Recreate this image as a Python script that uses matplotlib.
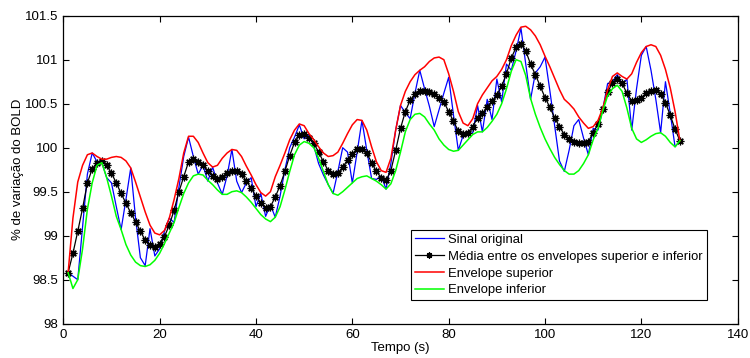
import numpy as np
import matplotlib
matplotlib.use("Agg")
import matplotlib.pyplot as plt
import matplotlib.ticker as plt_tick

plt.rcParams['font.family'] = ['Liberation Sans', 'DejaVu Sans']

# time axis, one sample per second
tempo = np.arange(1, 129)

# original BOLD signal (%)
sinal = [
    98.58, 98.54, 98.50, 99.10, 99.70, 99.94, 99.84, 99.83, 99.66, 99.60,
    99.33, 99.07, 99.41, 99.77, 99.20, 98.75, 98.66, 99.08, 98.77, 98.85,
    99.05, 99.20, 99.15, 99.55, 99.90, 100.12, 99.90, 99.70, 99.80, 99.62,
    99.78, 99.60, 99.47, 99.68, 99.98, 99.62, 99.49, 99.60, 99.66, 99.33,
    99.48, 99.22, 99.35, 99.21, 99.45, 99.75, 100.00, 100.12, 100.26, 100.10,
    100.15, 100.02, 99.82, 99.69, 99.58, 99.48, 99.73, 100.00, 99.95, 99.60,
    99.95, 100.31, 99.97, 99.65, 99.64, 99.68, 99.53, 99.82, 100.20, 100.48,
    100.40, 100.33, 100.62, 100.88, 100.67, 100.47, 100.24, 100.43, 100.62, 100.80,
    100.37, 99.97, 100.14, 100.15, 100.17, 100.48, 100.18, 100.55, 100.32, 100.78,
    100.52, 100.95, 100.88, 101.10, 101.36, 100.95, 100.55, 100.85, 100.92, 101.03,
    100.65, 100.25, 99.85, 99.73, 99.97, 100.25, 100.32, 100.11, 99.92, 100.22,
    100.20, 100.44, 100.73, 100.75, 100.83, 100.72, 100.78, 100.20, 100.67, 101.05,
    101.15, 100.88, 100.55, 100.17, 100.75, 100.39, 100.01, 100.08,
]

# upper envelope
env_sup = [
    98.58, 99.20, 99.61, 99.80, 99.92, 99.94, 99.90, 99.87, 99.87, 99.89,
    99.90, 99.89, 99.85, 99.77, 99.61, 99.44, 99.27, 99.12, 99.03, 99.01,
    99.06, 99.20, 99.41, 99.65, 99.94, 100.13, 100.13, 100.06, 99.94, 99.83,
    99.78, 99.80, 99.88, 99.94, 99.98, 99.97, 99.90, 99.79, 99.69, 99.58,
    99.49, 99.45, 99.50, 99.67, 99.80, 99.94, 100.09, 100.20, 100.27, 100.25,
    100.16, 100.09, 100.01, 99.94, 99.90, 99.91, 99.95, 100.05, 100.16, 100.26,
    100.32, 100.31, 100.20, 100.01, 99.84, 99.74, 99.72, 99.88, 100.20, 100.48,
    100.64, 100.75, 100.83, 100.88, 100.92, 100.98, 101.02, 101.03, 101.00, 100.84,
    100.64, 100.41, 100.28, 100.25, 100.33, 100.50, 100.60, 100.68, 100.76, 100.81,
    100.89, 101.00, 101.16, 101.28, 101.37, 101.38, 101.34, 101.27, 101.17, 101.04,
    100.92, 100.79, 100.66, 100.55, 100.50, 100.44, 100.35, 100.28, 100.22, 100.24,
    100.31, 100.45, 100.66, 100.81, 100.85, 100.81, 100.78, 100.84, 100.97, 101.08,
    101.15, 101.17, 101.15, 101.05, 100.89, 100.68, 100.41, 100.08,
]

# lower envelope
env_inf = [
    98.58, 98.40, 98.50, 98.85, 99.30, 99.60, 99.80, 99.83, 99.66, 99.45,
    99.22, 99.07, 98.90, 98.78, 98.70, 98.66, 98.65, 98.67, 98.72, 98.80,
    98.91, 99.03, 99.15, 99.32, 99.48, 99.60, 99.68, 99.70, 99.69, 99.63,
    99.58, 99.52, 99.47, 99.47, 99.50, 99.51, 99.49, 99.44, 99.38, 99.31,
    99.24, 99.19, 99.16, 99.21, 99.33, 99.52, 99.73, 99.92, 100.03, 100.07,
    100.05, 100.00, 99.88, 99.73, 99.58, 99.48, 99.46, 99.50, 99.55, 99.60,
    99.65, 99.67, 99.68, 99.65, 99.62, 99.58, 99.53, 99.59, 99.74, 99.95,
    100.18, 100.32, 100.38, 100.39, 100.35, 100.27, 100.20, 100.10, 100.03, 99.98,
    99.96, 99.97, 100.03, 100.09, 100.15, 100.18, 100.18, 100.23, 100.30, 100.38,
    100.50, 100.67, 100.87, 101.00, 100.98, 100.82, 100.56, 100.38, 100.23, 100.10,
    99.99, 99.89, 99.81, 99.74, 99.70, 99.70, 99.74, 99.82, 99.92, 100.09,
    100.22, 100.42, 100.59, 100.67, 100.71, 100.64, 100.45, 100.22, 100.10, 100.06,
    100.09, 100.13, 100.16, 100.17, 100.13, 100.06, 100.01, 100.08,
]

# mean between the envelopes
media = [
    98.58, 98.80, 99.05, 99.31, 99.60, 99.76, 99.83, 99.85, 99.80, 99.71,
    99.60, 99.48, 99.37, 99.26, 99.16, 99.05, 98.95, 98.89, 98.87, 98.91,
    98.99, 99.12, 99.29, 99.50, 99.67, 99.84, 99.87, 99.84, 99.80, 99.73,
    99.68, 99.65, 99.67, 99.71, 99.74, 99.74, 99.70, 99.62, 99.54, 99.45,
    99.37, 99.32, 99.33, 99.44, 99.57, 99.73, 99.91, 100.06, 100.15, 100.16,
    100.11, 100.05, 99.95, 99.84, 99.74, 99.70, 99.71, 99.78, 99.86, 99.93,
    99.99, 99.99, 99.94, 99.83, 99.73, 99.66, 99.63, 99.74, 99.97, 100.22,
    100.41, 100.54, 100.61, 100.64, 100.64, 100.63, 100.61, 100.57, 100.52, 100.41,
    100.30, 100.19, 100.16, 100.17, 100.24, 100.34, 100.39, 100.46, 100.53, 100.60,
    100.70, 100.84, 101.02, 101.14, 101.18, 101.10, 100.95, 100.83, 100.70, 100.57,
    100.46, 100.34, 100.24, 100.15, 100.10, 100.07, 100.05, 100.05, 100.07, 100.17,
    100.27, 100.44, 100.63, 100.74, 100.78, 100.73, 100.62, 100.53, 100.54, 100.57,
    100.62, 100.65, 100.66, 100.61, 100.51, 100.37, 100.21, 100.08,
]

fig = plt.figure(figsize=(7.5, 3.58), dpi=100)
ax = fig.add_axes([0.0844, 0.0958, 0.8992, 0.8603])

# asterisk marker like matlab's '*'
asterisco = (8, 2, 0)

ax.plot(tempo, sinal, color='#0000ff', lw=0.9, label='Sinal original')
ax.plot(tempo, media, color='black', lw=0.9, marker=asterisco, markersize=5.5,
        markeredgewidth=0.9, label='Média entre os envelopes superior e inferior')
ax.plot(tempo, env_sup, color='#ff0000', lw=1.1, label='Envelope superior')
ax.plot(tempo, env_inf, color='#00ff00', lw=1.1, label='Envelope inferior')

ax.set_xlim(0, 140)
ax.set_ylim(98, 101.5)
ax.set_xticks(np.arange(0, 141, 20))
ax.set_yticks(np.arange(98, 101.51, 0.5))
ax.yaxis.set_major_formatter(plt_tick.FormatStrFormatter('%g'))
ax.tick_params(direction='in', top=True, right=True, labelsize=9.5, length=4, width=0.8)
for sp in ax.spines.values():
    sp.set_linewidth(0.9)

ax.set_xlabel('Tempo (s)', fontsize=9.5, labelpad=1)
ax.set_ylabel('% de variação do BOLD', fontsize=9.5, labelpad=1)

leg = ax.legend(loc='lower right', bbox_to_anchor=(0.954, 0.076), borderaxespad=0,
                fontsize=9.4, fancybox=False, framealpha=1, edgecolor='black',
                handlelength=2.2, handletextpad=0.35, labelspacing=0.36,
                borderpad=0.3, markerscale=0.8)
leg.get_frame().set_linewidth(0.8)

fig.savefig('out.png', dpi=100)
